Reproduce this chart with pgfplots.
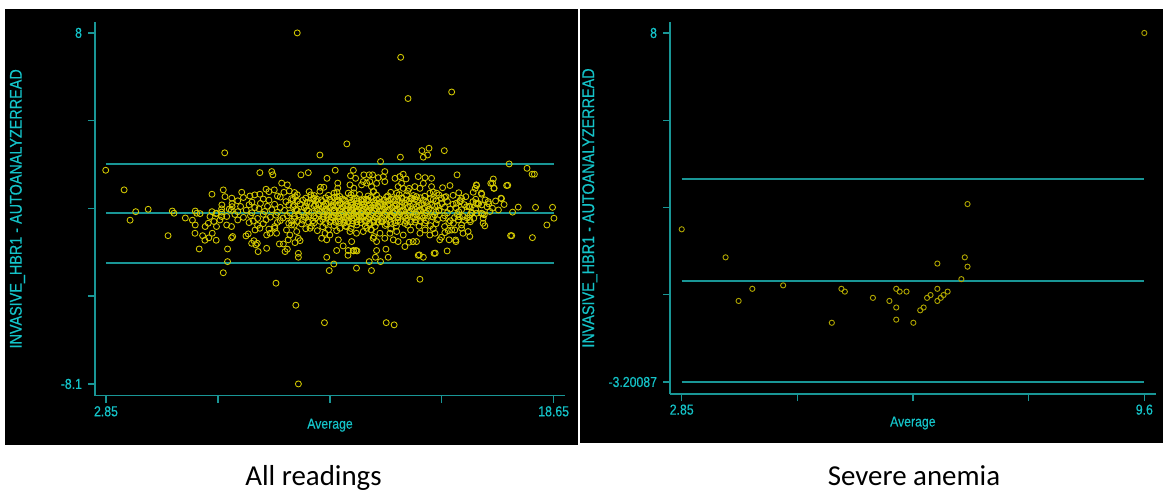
\documentclass[border=0pt]{standalone}
\usepackage{fontspec}
\setmainfont{Liberation Sans}
\newfontfamily\stataf[FakeStretch=0.85,FakeBold=0.3]{Liberation Sans}
\newfontfamily\carlito{Carlito}
\usepackage{pgfplots}
\pgfplotsset{compat=1.18}
\definecolor{axiscol}{RGB}{25,150,150}
\definecolor{textcol}{RGB}{20,195,200}
\definecolor{markL}{RGB}{212,202,0}
\definecolor{markR}{RGB}{175,165,0}
\pgfplotsset{
  stata/.style={
    scale only axis,
    axis x line*=bottom, axis y line*=left,
    axis line style={axiscol, line width=1.4bp},
    every tick/.style={axiscol, line width=1.4bp},
    tick align=outside,
    major tick length=7bp,
    tick label style={textcol, font=\stataf\fontsize{14.5}{14.5}\selectfont},
    yticklabel style={xshift=-2.5bp},
    /pgf/number format/assume math mode=true,
    label style={textcol},
    xlabel style={font=\stataf\fontsize{14.5}{14.5}\selectfont, anchor=center},
    ylabel style={font=\stataf\fontsize{17}{17}\selectfont, anchor=center},
    xlabel={Average},
    ylabel={INVASIVE\_HBR1 - AUTOANALYZERREAD}
  },
  refline/.style={axiscol, line width=1.6bp, mark=none, sharp plot}
}
\begin{document}
\begin{tikzpicture}
\useasboundingbox (0bp,0bp) rectangle (1163bp,490bp);
\fill[white] (0bp,0bp) rectangle (1163bp,490bp);
\fill[black] (5bp,45bp) rectangle (578bp,481bp);
\fill[black] (580bp,47bp) rectangle (1163bp,481bp);
% ---------------- Left panel: all readings
\begin{axis}[stata,
  at={(95bp,94.3bp)}, anchor=south west,
  width=470bp, height=373.7bp,
  xmin=2.462, xmax=19.05, ymin=-8.64, ymax=8.5,
  xtick={2.85,6.8,10.75,14.7,18.65}, xticklabels={2.85,,,,18.65},
  ytick={-8.1,-4.075,-0.05,3.975,8}, yticklabels={-8.1,,,,8},
  xlabel style={at={(axis description cs:0.5,-0.079)}},
  ylabel style={at={(axis description cs:-0.165,0.5)}}
]
\addplot[refline] coordinates {(2.85,1.99) (18.65,1.99)};
\addplot[refline] coordinates {(2.85,-0.257) (18.65,-0.257)};
\addplot[refline] coordinates {(2.85,-2.55) (18.65,-2.55)};
% outer points
\addplot[only marks, mark=o, mark size=3bp, mark options={draw=markL, line width=0.85bp}] coordinates {
(2.84,1.70) (3.49,0.80) (3.70,-0.59) (3.90,-0.20) (4.34,-0.09) (5.19,-0.17) (5.25,-0.27) (5.04,-1.30)
(5.65,-0.49) (6.00,-0.17) (6.05,-0.27) (6.17,-0.29) (6.59,-0.20) (6.73,-0.29) (6.93,-0.22) (6.59,0.60)
(6.99,0.80) (7.05,0.49) (7.29,0.42) (6.94,0.11) (7.30,0.03) (6.93,-0.07) (7.27,-0.13) (7.04,2.50)
(5.90,-0.59) (6.00,-0.81) (5.99,-1.19) (6.26,-1.30) (6.34,-1.51) (6.48,-1.40) (6.60,-1.19) (6.74,-1.51)
(7.28,-1.40) (6.35,-0.88) (6.46,-0.73) (6.75,-0.88) (6.66,-0.65) (6.87,-0.58) (7.11,-0.81) (7.28,-0.88)
(7.11,-0.42) (6.75,-0.27) (6.93,-0.42) (6.52,-0.42) (6.14,-1.91) (6.99,-3.00) (7.14,-1.91) (7.14,-2.49)
(10.40,2.40) (11.35,2.91) (8.28,1.59) (8.70,1.64) (8.74,1.49) (9.73,1.49) (9.99,1.59) (10.94,1.70)
(10.65,1.33) (11.48,1.45) (11.58,1.70) (11.66,1.33) (11.95,1.49) (12.14,1.49) (12.16,1.18) (11.93,1.18)
(7.64,0.69) (8.50,0.83) (8.79,0.80) (7.93,0.52) (8.28,0.60) (9.05,1.11) (9.25,1.03) (9.32,0.75)
(9.13,0.69) (9.53,0.49) (10.02,0.72) (10.08,0.57) (10.19,0.42) (10.42,0.92) (10.54,0.92) (11.03,1.11)
(11.03,0.88) (10.90,0.65) (11.00,0.49) (11.46,1.03) (11.60,0.88) (11.40,0.65) (11.87,1.03) (12.05,1.11)
(12.22,0.95) (12.28,0.72)
(14.00,2.60) (14.25,2.71) (14.05,2.30) (14.20,2.40) (14.79,2.60) (12.54,2.10) (13.24,2.30) (17.08,1.99)
(15.24,1.49) (16.99,1.00) (16.79,0.42) (16.52,1.30) (16.54,0.87) (16.43,1.10) (15.93,1.00) (15.88,0.87)
(16.11,0.60) (15.81,0.69) (14.99,1.00) (14.73,0.90) (14.85,0.49) (15.55,0.49) (15.34,0.26) (15.22,0.19)
(16.34,0.26) (16.11,0.11) (15.91,0.19) (15.69,0.03) (13.87,1.41) (14.11,1.36) (14.34,1.33) (13.34,1.52)
(13.22,1.41) (13.05,1.33) (13.44,1.30) (12.69,1.64) (12.64,1.41) (12.46,1.36) (12.26,1.49) (12.40,1.10)
(12.69,1.18) (14.05,1.10) (13.93,0.87) (13.75,0.95) (13.55,0.87) (14.34,0.95) (14.28,0.65) (14.52,0.65)
(14.69,0.42) (13.28,1.10) (13.16,0.95) (13.34,0.87) (13.11,0.65) (13.46,0.57) (13.28,0.42) (13.64,0.42)
(13.81,0.49)
(8.85,-3.48) (10.73,-2.90) (10.89,-2.60) (11.69,-2.79) (12.14,-2.49) (12.22,-2.90) (9.64,-2.11) (9.64,-2.29)
(10.64,-2.29) (8.52,-1.88) (8.22,-2.03) (8.19,-1.65) (7.99,-1.65) (8.14,-1.72) (8.07,-1.53) (8.97,-1.68)
(9.11,-1.68) (9.17,-2.03) (9.25,-1.92) (9.28,-1.49) (9.52,-1.62) (9.70,-1.53) (9.64,-1.42) (10.99,-1.98)
(11.22,-1.77) (11.40,-1.98) (11.58,-1.98) (11.67,-1.98) (11.05,-1.49) (11.52,-1.57) (7.32,-1.34) (7.87,-1.22)
(7.79,-1.31) (8.11,-1.04) (8.28,-0.96) (8.52,-1.27) (8.64,-1.19) (8.87,-1.19) (8.81,-0.96) (9.34,-1.27)
(9.58,-1.11) (9.22,-1.04) (9.40,-0.81) (10.05,-0.96) (10.31,-1.07) (10.58,-1.19) (10.75,-1.27) (10.46,-1.42)
(10.64,-1.49) (11.11,-0.96) (10.99,-1.07) (11.34,-0.88) (11.46,-1.11) (11.69,-1.19) (11.93,-1.11) (12.05,-0.96)
(12.22,-1.04) (12.28,-1.42)
(13.93,-3.30) (12.54,-2.49) (12.81,-2.29) (12.73,-1.92) (12.40,-1.98) (13.91,-2.18) (14.05,-2.29) (14.43,-2.11)
(14.89,-2.00) (15.69,-1.34) (15.20,-1.57) (14.96,-1.49) (14.69,-1.37) (14.63,-1.49) (17.13,-1.30) (16.16,-0.73)
(16.22,-0.85) (16.14,-0.30) (15.83,-0.50) (15.63,-1.11) (15.40,-0.96) (15.16,-1.04) (14.93,-1.07) (14.81,-1.16)
(13.69,-1.57) (13.40,-1.80) (13.55,-1.60) (13.81,-1.57) (13.16,-1.57) (12.99,-1.49) (12.69,-1.42) (12.40,-1.57)
(12.31,-1.34) (12.52,-1.19) (14.28,-1.27) (14.46,-1.19) (13.93,-1.19) (14.11,-1.04) (12.87,-1.19) (13.11,-1.11)
(13.34,-1.27) (15.28,-0.58) (15.46,-0.42) (15.69,-0.58) (15.93,-0.27) (15.40,-0.81) (15.11,-0.73)
(13.25,6.88) (13.51,4.99) (15.05,5.29) (9.60,8.00) (18.01,0.00) (18.61,0.00) (18.66,-0.50) (18.41,-0.81)
(17.17,-1.30) (17.90,-1.39) (17.03,1.01) (16.81,0.40) (17.89,1.52) (17.97,1.52) (17.71,1.79) (15.92,1.03)
(16.10,0.65) (16.49,1.11) (16.55,0.88) (16.23,0.34) (15.97,0.19) (16.36,0.16) (15.58,0.03) (15.77,-0.27)
(16.10,-0.27) (16.49,-0.04) (15.32,-0.43) (15.71,-0.66) (16.16,-0.50) (15.05,-1.04) (15.45,-1.19) (15.19,-1.50)
(10.56,-5.29) (12.74,-5.29) (13.02,-5.39) (9.55,-4.49) (9.64,-8.10) (14.47,-2.10) (12.36,-2.29) (13.87,-2.20)
(11.39,-2.20) (11.59,-2.00) (11.71,-2.00)
};
% dense core
\addplot[only marks, mark=o, mark size=3bp, mark options={draw=markL, line width=0.85bp}] coordinates {
(8.6,0.72) (9.5,0.68) (10.4,0.74) (11.0,0.70) (11.6,0.66) (12.3,0.73) (12.9,0.69) (13.5,0.75) (14.4,0.70) (15.3,0.67)
(8.1,0.57) (8.9,0.52) (9.6,0.58) (10.2,0.54) (10.7,0.55) (11.1,0.50) (11.5,0.57) (11.8,0.59) (12.1,0.52) (12.4,0.56)
(12.8,0.53) (13.2,0.58) (13.7,0.54) (14.1,0.51) (14.6,0.57) (15.1,0.55)
(7.7,0.45) (8.4,0.38) (9.0,0.47) (9.4,0.40) (9.9,0.42) (10.3,0.37) (10.6,0.44) (10.9,0.46) (11.2,0.39) (11.45,0.43)
(11.7,0.41) (11.95,0.36) (12.2,0.45) (12.5,0.40) (12.75,0.47) (13.0,0.38) (13.3,0.43) (13.6,0.40) (13.95,0.44) (14.3,0.39)
(14.8,0.46) (15.4,0.41) (15.9,0.37)
(7.5,0.30) (8.0,0.24) (8.6,0.33) (9.2,0.26) (9.6,0.28) (9.95,0.23) (10.25,0.31) (10.5,0.27) (10.8,0.25) (11.05,0.32)
(11.3,0.29) (11.5,0.24) (11.7,0.30) (11.9,0.26) (12.1,0.33) (12.3,0.27) (12.55,0.23) (12.8,0.29) (13.05,0.31) (13.3,0.25)
(13.55,0.28) (13.85,0.32) (14.15,0.24) (14.5,0.29) (14.9,0.27) (15.35,0.31) (15.8,0.26) (16.6,0.29)
(7.3,0.17) (7.9,0.12) (8.3,0.18) (8.8,0.14) (9.3,0.11) (9.7,0.16) (10.05,0.19) (10.35,0.13) (10.6,0.15) (10.85,0.10)
(11.1,0.18) (11.35,0.14) (11.55,0.12) (11.75,0.17) (11.95,0.15) (12.15,0.11) (12.35,0.19) (12.6,0.14) (12.85,0.16) (13.1,0.12)
(13.4,0.18) (13.7,0.13) (14.0,0.16) (14.35,0.11) (14.7,0.17) (15.1,0.14) (15.5,0.12) (16.0,0.16) (16.9,0.13)
(7.6,0.04) (8.1,-0.01) (8.55,0.05) (9.0,0.00) (9.45,0.03) (9.85,-0.02) (10.2,0.06) (10.5,0.01) (10.75,-0.03) (11.0,0.04)
(11.2,0.00) (11.4,0.05) (11.6,-0.02) (11.8,0.03) (12.0,0.01) (12.2,-0.03) (12.45,0.05) (12.7,0.02) (12.95,-0.01) (13.2,0.04)
(13.5,0.00) (13.8,0.03) (14.1,-0.02) (14.45,0.05) (14.8,0.01) (15.2,-0.02) (15.65,0.04) (16.3,0.02) (17.4,0.01)
(7.2,-0.08) (7.8,-0.13) (8.25,-0.07) (8.7,-0.11) (9.15,-0.14) (9.55,-0.09) (9.95,-0.12) (10.3,-0.06) (10.6,-0.10) (10.9,-0.13)
(11.15,-0.08) (11.35,-0.11) (11.55,-0.07) (11.75,-0.14) (11.95,-0.09) (12.15,-0.12) (12.35,-0.06) (12.6,-0.10) (12.85,-0.13) (13.1,-0.08)
(13.35,-0.11) (13.65,-0.07) (13.95,-0.12) (14.25,-0.09) (14.6,-0.13) (15.0,-0.08) (15.4,-0.11) (15.9,-0.10) (16.7,-0.12)
(7.5,-0.20) (8.0,-0.25) (8.45,-0.19) (8.9,-0.23) (9.35,-0.26) (9.75,-0.21) (10.1,-0.24) (10.4,-0.18) (10.7,-0.22) (10.95,-0.25)
(11.2,-0.20) (11.45,-0.23) (11.65,-0.19) (11.85,-0.26) (12.05,-0.21) (12.25,-0.24) (12.5,-0.18) (12.75,-0.22) (13.0,-0.25) (13.25,-0.20)
(13.55,-0.23) (13.85,-0.19) (14.15,-0.24) (14.5,-0.21) (14.9,-0.25) (15.3,-0.20) (15.75,-0.23) (16.4,-0.19) (17.2,-0.22)
(7.4,-0.33) (7.95,-0.38) (8.4,-0.32) (8.85,-0.36) (9.25,-0.39) (9.65,-0.34) (10.0,-0.37) (10.35,-0.31) (10.65,-0.35) (10.9,-0.38)
(11.15,-0.33) (11.4,-0.36) (11.6,-0.32) (11.8,-0.39) (12.0,-0.34) (12.2,-0.37) (12.45,-0.31) (12.7,-0.35) (12.95,-0.38) (13.2,-0.33)
(13.5,-0.36) (13.8,-0.32) (14.1,-0.37) (14.45,-0.34) (14.8,-0.38) (15.25,-0.33) (15.7,-0.36) (16.2,-0.34)
(7.7,-0.46) (8.2,-0.51) (8.65,-0.45) (9.1,-0.49) (9.5,-0.52) (9.9,-0.47) (10.25,-0.50) (10.55,-0.44) (10.85,-0.48) (11.1,-0.51)
(11.35,-0.46) (11.6,-0.49) (11.85,-0.45) (12.1,-0.52) (12.35,-0.47) (12.6,-0.50) (12.9,-0.44) (13.15,-0.48) (13.45,-0.51) (13.75,-0.46)
(14.05,-0.49) (14.4,-0.45) (14.75,-0.50) (15.15,-0.47) (15.6,-0.49)
(7.5,-0.58) (8.05,-0.63) (8.5,-0.57) (9.0,-0.61) (9.4,-0.64) (9.8,-0.59) (10.15,-0.62) (10.5,-0.56) (10.8,-0.60) (11.05,-0.63)
(11.3,-0.58) (11.55,-0.61) (11.8,-0.57) (12.05,-0.64) (12.3,-0.59) (12.55,-0.62) (12.85,-0.56) (13.15,-0.60) (13.45,-0.63) (13.8,-0.58)
(14.15,-0.61) (14.55,-0.57) (15.0,-0.62) (15.5,-0.60)
(7.9,-0.70) (8.4,-0.75) (8.9,-0.69) (9.3,-0.73) (9.75,-0.76) (10.2,-0.71) (10.6,-0.74) (10.95,-0.68) (11.25,-0.72) (11.55,-0.75)
(11.85,-0.70) (12.15,-0.73) (12.45,-0.69) (12.75,-0.76) (13.05,-0.71) (13.4,-0.74) (13.75,-0.68) (14.1,-0.72) (14.5,-0.75) (14.95,-0.70)
(8.2,-0.83) (8.8,-0.88) (9.5,-0.82) (10.1,-0.86) (10.5,-0.89) (10.9,-0.84) (11.3,-0.87) (11.7,-0.81) (12.0,-0.85) (12.35,-0.88)
(12.7,-0.83) (13.1,-0.86) (13.5,-0.82) (13.9,-0.87) (14.3,-0.84) (14.8,-0.88)
(8.6,-1.00) (9.9,-0.98) (10.7,-1.03) (11.5,-0.97) (12.2,-1.02) (12.9,-0.99) (13.6,-1.04) (14.4,-0.98)
(9.45,0.36) (9.8,0.33) (10.15,0.38) (10.45,0.34) (10.75,0.37) (11.0,0.35) (11.25,0.33) (11.6,0.38) (11.85,0.34) (12.05,0.37)
(12.4,0.35) (12.65,0.33) (12.9,0.38) (13.15,0.36) (13.45,0.34) (13.75,0.37) (14.05,0.33) (14.4,0.36)
(9.5,0.09) (9.9,0.06) (10.25,0.10) (10.55,0.07) (10.8,0.05) (11.05,0.09) (11.3,0.07) (11.5,0.10) (11.7,0.06) (11.9,0.08)
(12.1,0.05) (12.3,0.09) (12.55,0.07) (12.8,0.10) (13.05,0.06) (13.3,0.08) (13.6,0.05) (13.9,0.09) (14.2,0.07) (14.55,0.08)
(9.6,-0.15) (10.0,-0.18) (10.35,-0.14) (10.65,-0.17) (10.9,-0.19) (11.1,-0.15) (11.3,-0.17) (11.5,-0.14) (11.7,-0.18) (11.9,-0.16)
(12.1,-0.19) (12.3,-0.15) (12.55,-0.17) (12.8,-0.14) (13.05,-0.18) (13.3,-0.16) (13.6,-0.19) (13.9,-0.15) (14.2,-0.17) (14.6,-0.16)
(9.5,-0.41) (9.85,-0.44) (10.2,-0.40) (10.5,-0.43) (10.8,-0.45) (11.05,-0.41) (11.25,-0.43) (11.5,-0.40) (11.7,-0.44) (11.95,-0.42)
(12.15,-0.45) (12.4,-0.41) (12.65,-0.43) (12.9,-0.40) (13.15,-0.44) (13.4,-0.42) (13.7,-0.45) (14.0,-0.41) (14.35,-0.43)
(9.6,-0.65) (10.0,-0.68) (10.4,-0.64) (10.75,-0.67) (11.1,-0.69) (11.4,-0.65) (11.7,-0.67) (12.0,-0.64) (12.3,-0.68) (12.6,-0.66)
(12.9,-0.69) (13.25,-0.65) (13.6,-0.67) (13.95,-0.64)
};
\end{axis}
% ---------------- Right panel: severe anemia
\begin{axis}[stata,
  at={(670bp,96bp)}, anchor=south west,
  width=485.7bp, height=372bp,
  xmin=2.679, xmax=9.766, ymin=-3.586, ymax=8.353,
  xtick={2.85,4.5375,6.225,7.9125,9.6}, xticklabels={2.85,,,,9.6},
  ytick={-3.20087,-0.400652,2.399565,5.199783,8}, yticklabels={-3.20087,,,,8},
  xlabel style={at={(axis description cs:0.5,-0.078)}},
  ylabel style={at={(axis description cs:-0.165,0.5)}}
]
\addplot[refline] coordinates {(2.85,0.045) (9.6,0.045)};
\addplot[refline] coordinates {(2.85,-3.20087) (9.6,-3.20087)};
\addplot[refline] coordinates {(2.85,3.305) (9.6,3.305)};
\addplot[only marks, mark=o, mark size=2.6bp, mark options={draw=markR, line width=0.9bp}] coordinates {
(9.6,8.0) (7.02,2.51) (2.85,1.70)
(3.49,0.80) (3.68,-0.60) (3.88,-0.21) (4.33,-0.10) (5.04,-1.30) (5.18,-0.21) (5.23,-0.30) (5.64,-0.50)
(5.88,-0.60) (5.98,-0.21) (6.03,-0.30) (6.13,-0.30) (5.98,-0.81) (5.98,-1.20) (6.23,-1.30) (6.33,-0.90)
(6.38,-0.81) (6.43,-0.50) (6.48,-0.41) (6.58,-0.21) (6.58,-0.60) (6.63,-0.50) (6.67,-0.41) (6.73,-0.30)
(6.58,0.60) (6.93,0.10) (6.98,0.80) (7.02,0.50)
};
\end{axis}
\node[anchor=base, inner sep=0pt, font=\carlito\fontsize{29}{29}\selectfont] at (313.5bp,5bp) {All readings};
\node[anchor=base, inner sep=0pt, font=\carlito\fontsize{29}{29}\selectfont] at (914bp,5bp) {Severe anemia};
\end{tikzpicture}
\end{document}
